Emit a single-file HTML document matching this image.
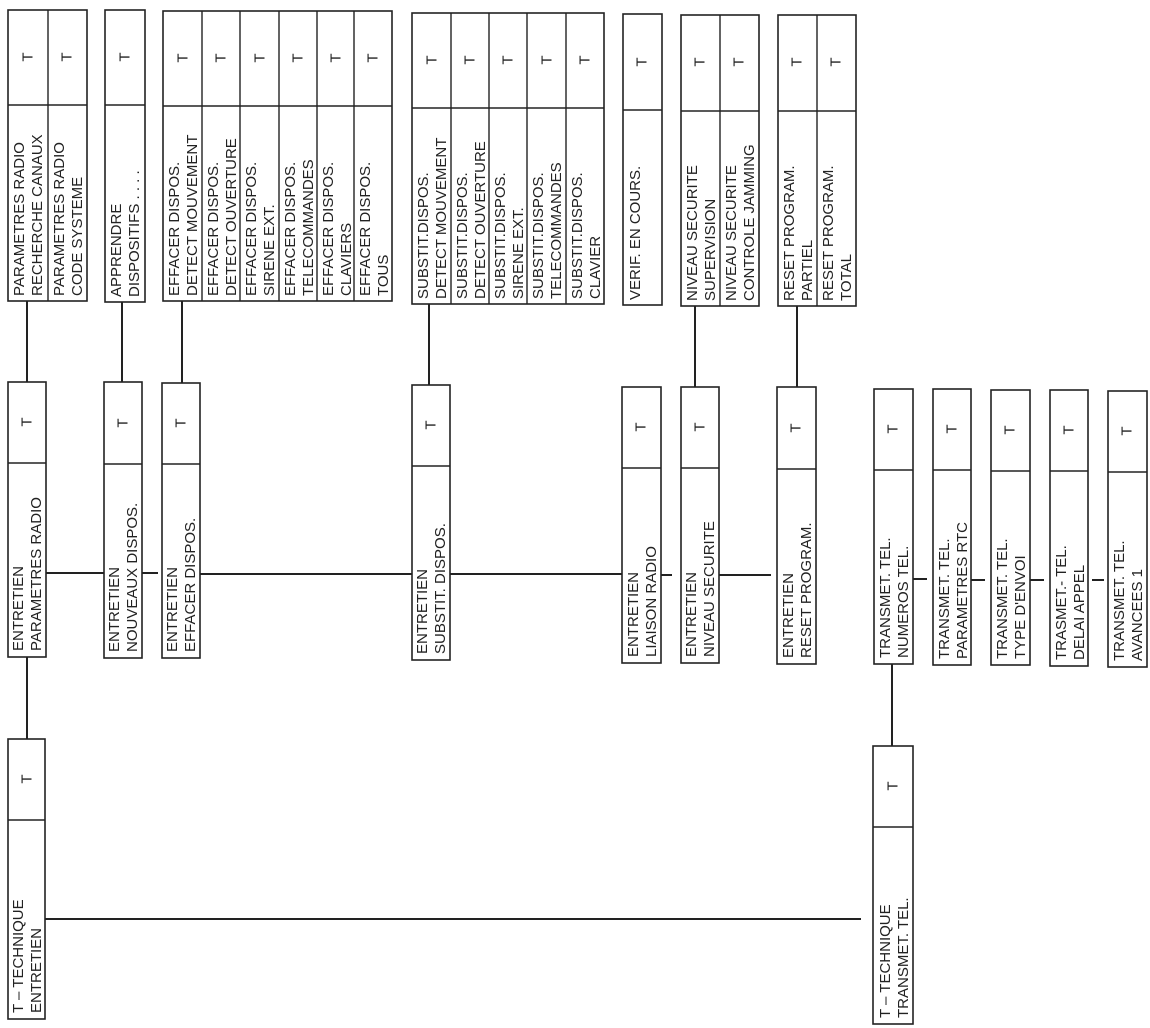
<!DOCTYPE html>
<html><head><meta charset="utf-8"><style>
html,body{margin:0;padding:0;background:#fff;}
svg{display:block;}
text{font-family:"Liberation Sans",Arial,sans-serif;font-size:15px;fill:#222;}
.b{fill:#fff;stroke:#222;stroke-width:1.6;}
.l{stroke:#222;stroke-width:1.4;}
.c{stroke:#222;stroke-width:2;}
</style></head><body>
<svg width="1150" height="1028" viewBox="0 0 1150 1028" xmlns="http://www.w3.org/2000/svg">
<g class="c">
<line x1="27" y1="301" x2="27" y2="382"/>
<line x1="122" y1="302" x2="122" y2="382"/>
<line x1="182" y1="301" x2="182" y2="383"/>
<line x1="429" y1="304" x2="429" y2="385"/>
<line x1="695" y1="306" x2="695" y2="387"/>
<line x1="797" y1="306" x2="797" y2="387"/>
<line x1="46" y1="573" x2="104" y2="573"/>
<line x1="142" y1="573" x2="158" y2="573"/>
<line x1="200" y1="574" x2="412" y2="574"/>
<line x1="450" y1="574" x2="622" y2="574"/>
<line x1="652" y1="575" x2="672" y2="575"/>
<line x1="713" y1="575" x2="771" y2="575"/>
<line x1="913" y1="579" x2="927" y2="579"/>
<line x1="971" y1="580" x2="985" y2="580"/>
<line x1="1030" y1="580" x2="1044" y2="580"/>
<line x1="1092" y1="580" x2="1104" y2="580"/>
<line x1="27" y1="657" x2="27" y2="739"/>
<line x1="892" y1="664" x2="892" y2="746"/>
<line x1="45" y1="919" x2="861" y2="919"/>
</g>

<g>
<rect class="b" x="8" y="10" width="79" height="291"/>
<line class="l" x1="48" y1="10" x2="48" y2="301"/><line class="l" x1="8" y1="105" x2="87" y2="105"/>
<text transform="translate(28,57) rotate(-90)" text-anchor="middle" dominant-baseline="central">T</text>
<text transform="translate(67,57) rotate(-90)" text-anchor="middle" dominant-baseline="central">T</text>
<text transform="translate(24,296) rotate(-90)">PARAMETRES RADIO</text>
<text transform="translate(42,296) rotate(-90)">RECHERCHE CANAUX</text>
<text transform="translate(64,296) rotate(-90)">PARAMETRES RADIO</text>
<text transform="translate(82,296) rotate(-90)">CODE SYSTEME</text>

<rect class="b" x="105" y="10" width="40" height="292"/>
<line class="l" x1="105" y1="105" x2="145" y2="105"/>
<text transform="translate(125,57) rotate(-90)" text-anchor="middle" dominant-baseline="central">T</text>
<text transform="translate(121,297) rotate(-90)">APPRENDRE</text>
<text transform="translate(139,297) rotate(-90)">DISPOSITIFS . . . .</text>

<rect class="b" x="163" y="11" width="229" height="290"/>
<line class="l" x1="163" y1="106" x2="392" y2="106"/>
<line class="l" x1="202" y1="11" x2="202" y2="301"/><line class="l" x1="240" y1="11" x2="240" y2="301"/>
<line class="l" x1="279" y1="11" x2="279" y2="301"/><line class="l" x1="317" y1="11" x2="317" y2="301"/>
<line class="l" x1="354" y1="11" x2="354" y2="301"/>
<text transform="translate(183,58) rotate(-90)" text-anchor="middle" dominant-baseline="central">T</text>
<text transform="translate(221,58) rotate(-90)" text-anchor="middle" dominant-baseline="central">T</text>
<text transform="translate(260,58) rotate(-90)" text-anchor="middle" dominant-baseline="central">T</text>
<text transform="translate(298,58) rotate(-90)" text-anchor="middle" dominant-baseline="central">T</text>
<text transform="translate(336,58) rotate(-90)" text-anchor="middle" dominant-baseline="central">T</text>
<text transform="translate(373,58) rotate(-90)" text-anchor="middle" dominant-baseline="central">T</text>
<text transform="translate(179,296) rotate(-90)">EFFACER DISPOS.</text>
<text transform="translate(197,296) rotate(-90)">DETECT MOUVEMENT</text>
<text transform="translate(218,296) rotate(-90)">EFFACER DISPOS.</text>
<text transform="translate(236,296) rotate(-90)">DETECT OUVERTURE</text>
<text transform="translate(256,296) rotate(-90)">EFFACER DISPOS.</text>
<text transform="translate(274,296) rotate(-90)">SIRENE EXT.</text>
<text transform="translate(295,296) rotate(-90)">EFFACER DISPOS.</text>
<text transform="translate(313,296) rotate(-90)">TELECOMMANDES</text>
<text transform="translate(333,296) rotate(-90)">EFFACER DISPOS.</text>
<text transform="translate(351,296) rotate(-90)">CLAVIERS</text>
<text transform="translate(370,296) rotate(-90)">EFFACER DISPOS.</text>
<text transform="translate(388,296) rotate(-90)">TOUS</text>

<rect class="b" x="412" y="13" width="192" height="291"/>
<line class="l" x1="412" y1="108" x2="604" y2="108"/>
<line class="l" x1="451" y1="13" x2="451" y2="304"/><line class="l" x1="489" y1="13" x2="489" y2="304"/>
<line class="l" x1="527" y1="13" x2="527" y2="304"/><line class="l" x1="566" y1="13" x2="566" y2="304"/>
<text transform="translate(432,60) rotate(-90)" text-anchor="middle" dominant-baseline="central">T</text>
<text transform="translate(470,60) rotate(-90)" text-anchor="middle" dominant-baseline="central">T</text>
<text transform="translate(508,60) rotate(-90)" text-anchor="middle" dominant-baseline="central">T</text>
<text transform="translate(547,60) rotate(-90)" text-anchor="middle" dominant-baseline="central">T</text>
<text transform="translate(585,60) rotate(-90)" text-anchor="middle" dominant-baseline="central">T</text>
<text transform="translate(428,299) rotate(-90)">SUBSTIT.DISPOS.</text>
<text transform="translate(446,299) rotate(-90)">DETECT MOUVEMENT</text>
<text transform="translate(467,299) rotate(-90)">SUBSTIT.DISPOS.</text>
<text transform="translate(485,299) rotate(-90)">DETECT OUVERTURE</text>
<text transform="translate(505,299) rotate(-90)">SUBSTIT.DISPOS.</text>
<text transform="translate(523,299) rotate(-90)">SIRENE EXT.</text>
<text transform="translate(543,299) rotate(-90)">SUBSTIT.DISPOS.</text>
<text transform="translate(561,299) rotate(-90)">TELECOMMANDES</text>
<text transform="translate(582,299) rotate(-90)">SUBSTIT.DISPOS.</text>
<text transform="translate(600,299) rotate(-90)">CLAVIER</text>

<rect class="b" x="623" y="14" width="39" height="291"/>
<line class="l" x1="623" y1="110" x2="662" y2="110"/>
<text transform="translate(642,62) rotate(-90)" text-anchor="middle" dominant-baseline="central">T</text>
<text transform="translate(640,300) rotate(-90)">VERIF.  EN COURS.</text>

<rect class="b" x="681" y="15" width="78" height="291"/>
<line class="l" x1="720" y1="15" x2="720" y2="306"/><line class="l" x1="681" y1="111" x2="759" y2="111"/>
<text transform="translate(700,62) rotate(-90)" text-anchor="middle" dominant-baseline="central">T</text>
<text transform="translate(739,62) rotate(-90)" text-anchor="middle" dominant-baseline="central">T</text>
<text transform="translate(697,301) rotate(-90)">NIVEAU SECURITE</text>
<text transform="translate(715,301) rotate(-90)">SUPERVISION</text>
<text transform="translate(736,301) rotate(-90)">NIVEAU SECURITE</text>
<text transform="translate(754,301) rotate(-90)">CONTROLE JAMMING</text>

<rect class="b" x="778" y="15" width="78" height="291"/>
<line class="l" x1="817" y1="15" x2="817" y2="306"/><line class="l" x1="778" y1="111" x2="856" y2="111"/>
<text transform="translate(797,62) rotate(-90)" text-anchor="middle" dominant-baseline="central">T</text>
<text transform="translate(836,62) rotate(-90)" text-anchor="middle" dominant-baseline="central">T</text>
<text transform="translate(794,301) rotate(-90)">RESET PROGRAM.</text>
<text transform="translate(812,301) rotate(-90)">PARTIEL</text>
<text transform="translate(833,301) rotate(-90)">RESET PROGRAM.</text>
<text transform="translate(851,301) rotate(-90)">TOTAL</text>
</g>

<g>
<rect class="b" x="8" y="382" width="38" height="275"/><line class="l" x1="8" y1="463" x2="46" y2="463"/>
<text transform="translate(27,422) rotate(-90)" text-anchor="middle" dominant-baseline="central">T</text>
<text transform="translate(23,651) rotate(-90)">ENTRETIEN</text>
<text transform="translate(41,651) rotate(-90)">PARAMETRES RADIO</text>

<rect class="b" x="104" y="382" width="38" height="276"/><line class="l" x1="104" y1="464" x2="142" y2="464"/>
<text transform="translate(123,423) rotate(-90)" text-anchor="middle" dominant-baseline="central">T</text>
<text transform="translate(119,652) rotate(-90)">ENTRETIEN</text>
<text transform="translate(137,652) rotate(-90)">NOUVEAUX DISPOS.</text>

<rect class="b" x="162" y="383" width="38" height="275"/><line class="l" x1="162" y1="464" x2="200" y2="464"/>
<text transform="translate(181,423) rotate(-90)" text-anchor="middle" dominant-baseline="central">T</text>
<text transform="translate(177,652) rotate(-90)">ENTRETIEN</text>
<text transform="translate(195,652) rotate(-90)">EFFACER DISPOS.</text>

<rect class="b" x="412" y="385" width="38" height="275"/><line class="l" x1="412" y1="466" x2="450" y2="466"/>
<text transform="translate(431,425) rotate(-90)" text-anchor="middle" dominant-baseline="central">T</text>
<text transform="translate(427,654) rotate(-90)">ENTRETIEN</text>
<text transform="translate(445,654) rotate(-90)">SUBSTIT. DISPOS.</text>

<rect class="b" x="622" y="387" width="39" height="276"/><line class="l" x1="622" y1="468" x2="661" y2="468"/>
<text transform="translate(641,427) rotate(-90)" text-anchor="middle" dominant-baseline="central">T</text>
<text transform="translate(638,657) rotate(-90)">ENTRETIEN</text>
<text transform="translate(656,657) rotate(-90)">LIAISON RADIO</text>

<rect class="b" x="681" y="387" width="38" height="276"/><line class="l" x1="681" y1="468" x2="719" y2="468"/>
<text transform="translate(700,427) rotate(-90)" text-anchor="middle" dominant-baseline="central">T</text>
<text transform="translate(696,657) rotate(-90)">ENTRETIEN</text>
<text transform="translate(714,657) rotate(-90)">NIVEAU SECURITE</text>

<rect class="b" x="777" y="387" width="39" height="277"/><line class="l" x1="777" y1="469" x2="816" y2="469"/>
<text transform="translate(796,428) rotate(-90)" text-anchor="middle" dominant-baseline="central">T</text>
<text transform="translate(793,658) rotate(-90)">ENTRETIEN</text>
<text transform="translate(811,658) rotate(-90)">RESET PROGRAM.</text>

<rect class="b" x="874" y="389" width="39" height="275"/><line class="l" x1="874" y1="470" x2="913" y2="470"/>
<text transform="translate(893,429) rotate(-90)" text-anchor="middle" dominant-baseline="central">T</text>
<text transform="translate(890,658) rotate(-90)">TRANSMET. TEL.</text>
<text transform="translate(908,658) rotate(-90)">NUMEROS TEL.</text>

<rect class="b" x="933" y="389" width="38" height="276"/><line class="l" x1="933" y1="470" x2="971" y2="470"/>
<text transform="translate(952,429) rotate(-90)" text-anchor="middle" dominant-baseline="central">T</text>
<text transform="translate(949,659) rotate(-90)">TRANSMET. TEL.</text>
<text transform="translate(967,659) rotate(-90)">PARAMETRES RTC</text>

<rect class="b" x="991" y="390" width="39" height="275"/><line class="l" x1="991" y1="471" x2="1030" y2="471"/>
<text transform="translate(1010,430) rotate(-90)" text-anchor="middle" dominant-baseline="central">T</text>
<text transform="translate(1007,659) rotate(-90)">TRANSMET. TEL.</text>
<text transform="translate(1025,659) rotate(-90)">TYPE D'ENVOI</text>

<rect class="b" x="1050" y="390" width="38" height="276"/><line class="l" x1="1050" y1="471" x2="1088" y2="471"/>
<text transform="translate(1069,430) rotate(-90)" text-anchor="middle" dominant-baseline="central">T</text>
<text transform="translate(1066,660) rotate(-90)">TRASMET.- TEL.</text>
<text transform="translate(1084,660) rotate(-90)">DELAI APPEL</text>

<rect class="b" x="1108" y="391" width="39" height="276"/><line class="l" x1="1108" y1="472" x2="1147" y2="472"/>
<text transform="translate(1127,431) rotate(-90)" text-anchor="middle" dominant-baseline="central">T</text>
<text transform="translate(1124,661) rotate(-90)">TRANSMET. TEL.</text>
<text transform="translate(1142,661) rotate(-90)">AVANCEES 1</text>
</g>

<g>
<rect class="b" x="8" y="739" width="37" height="280"/><line class="l" x1="8" y1="820" x2="45" y2="820"/>
<text transform="translate(27,779) rotate(-90)" text-anchor="middle" dominant-baseline="central">T</text>
<text transform="translate(23,1013) rotate(-90)">T – TECHNIQUE</text>
<text transform="translate(41,1013) rotate(-90)">ENTRETIEN</text>

<rect class="b" x="873" y="746" width="40" height="278"/><line class="l" x1="873" y1="827" x2="913" y2="827"/>
<text transform="translate(893,786) rotate(-90)" text-anchor="middle" dominant-baseline="central">T</text>
<text transform="translate(890,1018) rotate(-90)">T – TECHNIQUE</text>
<text transform="translate(908,1018) rotate(-90)">TRANSMET. TEL.</text>
</g>
</svg>
</body></html>
